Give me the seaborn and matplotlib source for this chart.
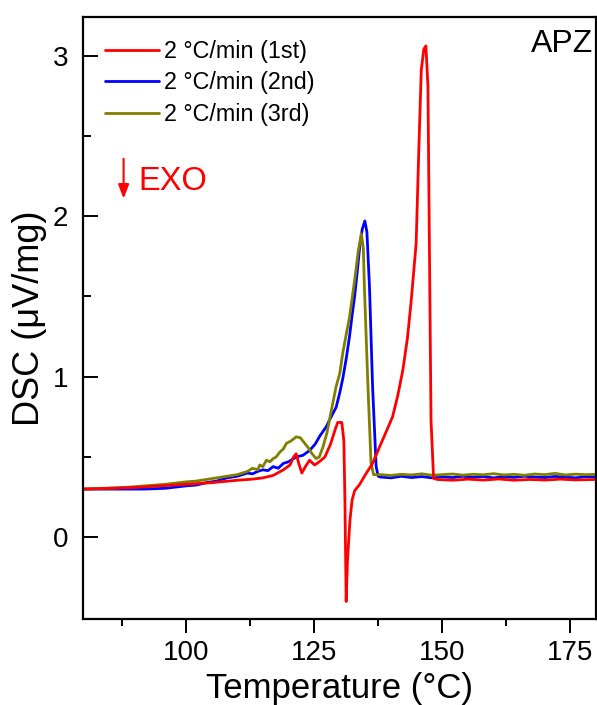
import matplotlib
matplotlib.use("Agg")
import matplotlib.pyplot as plt
import numpy as np
import pandas as pd
import seaborn as sns
from matplotlib.ticker import FixedLocator

# ---------------- data ----------------
labels = ["2 °C/min (1st)", "2 °C/min (2nd)", "2 °C/min (3rd)"]
colors = ["#ff0000", "#0000ff", "#808000"]

t1 = [80, 85, 90, 95, 100, 105, 110, 113, 115, 117, 119, 120.3, 121.0, 121.5, 122.0,
      122.6, 123.3, 124.1, 125.1, 126.0, 127.1, 128.2, 129.1, 129.6, 130.4, 130.8,
      131.0, 131.25, 131.5, 132.0, 132.4, 132.9, 133.9, 135.0, 136.4, 138.0, 139.5,
      140.3, 141.3, 142.3, 143.2, 143.9, 144.6, 144.9, 145.4, 145.9, 146.4, 146.8,
      147.2, 147.5, 147.8, 148.3, 149, 152, 155, 158, 161, 164, 167, 170, 173, 176, 180]
y1 = [0.30, 0.305, 0.31, 0.32, 0.33, 0.34, 0.355, 0.362, 0.37, 0.385, 0.42, 0.45, 0.50,
      0.52, 0.46, 0.40, 0.44, 0.48, 0.45, 0.47, 0.50, 0.58, 0.67, 0.715, 0.715, 0.60,
      0.25, -0.40, -0.15, 0.11, 0.23, 0.29, 0.33, 0.39, 0.46, 0.58, 0.69, 0.75, 0.88,
      1.04, 1.24, 1.46, 1.72, 1.83, 2.39, 2.91, 3.04, 3.06, 2.81, 1.77, 0.73, 0.367,
      0.36, 0.355, 0.362, 0.356, 0.363, 0.355, 0.36, 0.356, 0.362, 0.357, 0.36]

t2 = [80, 84, 88, 92, 96, 100, 102, 104, 106, 108, 110, 111, 112, 113, 114, 115, 116,
      117, 118, 119, 120, 121.5, 122.8, 124.1, 125.2, 126.1, 127.4, 128.0, 129.3, 130.0,
      130.6, 131.3, 131.9, 132.4, 132.9, 133.4, 133.9, 134.4, 134.9, 135.3, 135.8,
      136.4, 137.1, 137.5, 138, 140, 142, 144, 146, 148, 150, 152, 154, 156, 158, 160,
      162, 164, 166, 168, 170, 172, 174, 176, 178, 180]
y2 = [0.30, 0.30, 0.30, 0.30, 0.305, 0.32, 0.325, 0.34, 0.35, 0.37, 0.38, 0.39, 0.40,
      0.395, 0.41, 0.42, 0.415, 0.44, 0.43, 0.46, 0.47, 0.50, 0.51, 0.54, 0.58, 0.63,
      0.69, 0.73, 0.81, 0.90, 0.99, 1.12, 1.25, 1.38, 1.50, 1.65, 1.81, 1.92, 1.97,
      1.90, 1.56, 0.94, 0.44, 0.38, 0.375, 0.37, 0.38, 0.372, 0.378, 0.37, 0.376,
      0.372, 0.38, 0.374, 0.378, 0.37, 0.377, 0.373, 0.38, 0.375, 0.372, 0.379,
      0.374, 0.37, 0.378, 0.375]

t3 = [80, 84, 88, 92, 96, 100, 102, 104, 106, 108, 110, 111, 112, 113, 114, 114.4,
      115.0, 115.7, 116.4, 117, 117.6, 118.3, 119.0, 119.6, 120.5, 121.5, 122.3, 122.8,
      123.8, 124.6, 125.4, 126.0, 126.7, 127.5, 128.3, 129.3, 130.0, 130.6, 131.3,
      131.9, 132.9, 133.6, 134.2, 134.6, 134.8, 135.5, 136.1, 136.6, 138, 140, 142, 144,
      146, 148, 150, 152, 154, 156, 158, 160, 162, 164, 166, 168, 170, 172, 174, 176,
      178, 180]
y3 = [0.30, 0.305, 0.31, 0.32, 0.33, 0.345, 0.35, 0.36, 0.37, 0.38, 0.39, 0.40, 0.41,
      0.43, 0.42, 0.45, 0.44, 0.48, 0.47, 0.49, 0.50, 0.53, 0.55, 0.585, 0.60, 0.625,
      0.62, 0.60, 0.56, 0.52, 0.49, 0.50, 0.56, 0.65, 0.78, 0.94, 1.02, 1.15, 1.27,
      1.37, 1.60, 1.78, 1.89, 1.80, 1.56, 0.94, 0.46, 0.39, 0.39, 0.385, 0.392, 0.388,
      0.395, 0.386, 0.39, 0.394, 0.387, 0.392, 0.389, 0.396, 0.388, 0.392, 0.386,
      0.394, 0.39, 0.398, 0.388, 0.393, 0.39, 0.392]

xticks = [100, 125, 150, 175]
yticks = [0, 1, 2, 3]

df = pd.concat([
    pd.DataFrame({"T": t1, "DSC": y1, "run": labels[0]}),
    pd.DataFrame({"T": t2, "DSC": y2, "run": labels[1]}),
    pd.DataFrame({"T": t3, "DSC": y3, "run": labels[2]}),
], ignore_index=True)

# ---------------- style ----------------
sns.set_style("ticks")
plt.rcParams["font.family"] = ["Liberation Sans", "DejaVu Sans"]
for k in ["text.color", "axes.labelcolor", "xtick.color", "ytick.color", "axes.edgecolor"]:
    plt.rcParams[k] = "black"

fig = plt.figure(figsize=(5.97, 7.05), dpi=100)
ax = fig.add_axes([0.1397, 0.1213, 0.8588, 0.8546])

palette = dict(zip(labels, colors))
# draw order: 2nd, 3rd, then 1st on top
for lab in [labels[1], labels[2], labels[0]]:
    sns.lineplot(data=df[df["run"] == lab], x="T", y="DSC", color=palette[lab],
                 lw=2.0, ax=ax, label=lab, legend=False)

ax.set_xlim(80, 180)
ax.set_ylim(-0.512, 3.24)
ax.xaxis.set_major_locator(FixedLocator(xticks))
ax.xaxis.set_minor_locator(FixedLocator([87.5, 112.5, 137.5, 162.5]))
ax.yaxis.set_major_locator(FixedLocator(yticks))
ax.yaxis.set_minor_locator(FixedLocator([0.5, 1.5, 2.5]))

for s in ax.spines.values():
    s.set_linewidth(1.6)
    s.set_color("black")
    s.set_visible(True)

ax.tick_params(axis="x", which="major", direction="out", length=10, width=1.4,
               labelsize=20, pad=5, color="black", labelcolor="black")
ax.tick_params(axis="x", which="minor", direction="out", length=5, width=1.4,
               color="black")
ax.tick_params(axis="y", which="major", direction="in", length=10.5, width=1.4,
               labelsize=20, pad=11, color="black", labelcolor="black")
ax.tick_params(axis="y", which="minor", direction="in", length=6, width=1.4,
               color="black")

ax.set_xlabel("Temperature (°C)", fontsize=25, labelpad=4, color="black")
ax.set_ylabel("DSC (\u03bcV/mg)", fontsize=26, labelpad=4, color="black")

handles, labs = ax.get_legend_handles_labels()
order = [labs.index(l) for l in labels]
leg = ax.legend([handles[i] for i in order], [labs[i] for i in order],
                loc="upper left", bbox_to_anchor=(0.042, 0.962), frameon=False,
                fontsize=16.8, handlelength=2.3, handletextpad=0.25, labelspacing=0.36,
                borderaxespad=0, borderpad=0)
for t in leg.get_texts():
    t.set_color("black")

ax.text(0.994, 0.955, "APZ", transform=ax.transAxes, ha="right", va="center",
        fontsize=23, color="black")
ax.text(0.1065, 0.7266, "EXO", transform=ax.transAxes, ha="left", va="center",
        fontsize=23.5, color="red")
ax.annotate("", xy=(0.0784, 0.6985), xytext=(0.0784, 0.7647),
            xycoords="axes fraction", textcoords="axes fraction",
            arrowprops=dict(arrowstyle="-|>,head_length=0.6,head_width=0.23",
                            color="red", lw=1.5, mutation_scale=14,
                            shrinkA=0, shrinkB=0))

fig.savefig("out.png", dpi=100)
